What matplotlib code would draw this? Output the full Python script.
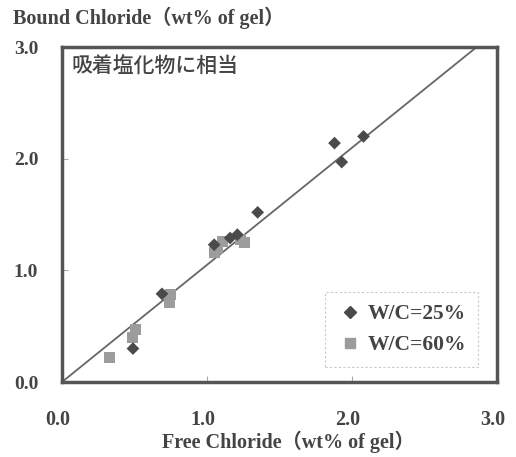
import matplotlib
matplotlib.use("Agg")
import matplotlib.pyplot as plt
from matplotlib.lines import Line2D
from matplotlib.transforms import ScaledTranslation

# Data
wc25_free = [0.49, 0.69, 1.05, 1.16, 1.21, 1.35, 1.88, 1.93, 2.08]
wc25_bound = [0.30, 0.79, 1.23, 1.29, 1.32, 1.52, 2.14, 1.97, 2.20]
wc60_free = [0.33, 0.49, 0.51, 0.74, 0.75, 1.05, 1.07, 1.11, 1.26, 1.23]
wc60_bound = [0.22, 0.40, 0.47, 0.71, 0.78, 1.16, 1.20, 1.26, 1.25, 1.28]
line_x = [0.0, 2.86]
line_y = [0.0, 3.0]
ticks = [0.0, 1.0, 2.0, 3.0]
tick_labels = ["0.0", "1.0", "2.0", "3.0"]
series_labels = ["W/C=25%", "W/C=60%"]

serif = ["Liberation Serif", "Noto Sans CJK JP"]
txt = "#444444"

fig = plt.figure(figsize=(5.16, 4.57), dpi=100)
ax = fig.add_axes([0.120, 0.164, 0.843, 0.733])

ax.plot(line_x, line_y, color="#666666", lw=1.3, zorder=2)
ax.scatter(wc60_free, wc60_bound, marker="s", s=62, color="#9c9c9c",
           edgecolors="none", zorder=3)
ax.scatter(wc25_free, wc25_bound, marker="D", s=42, color="#4a4a4a",
           edgecolors="none", zorder=4)

ax.set_xlim(0, 3)
ax.set_ylim(0, 3)
ax.set_xticks(ticks)
ax.set_yticks(ticks)
ax.set_xticklabels(tick_labels, family=serif, fontsize=14.5, fontweight="bold", color=txt)
ax.set_yticklabels(tick_labels, family=serif, fontsize=14, fontweight="bold", color=txt)
ax.tick_params(direction="in", length=4, width=0.8, color="#aaaaaa")
ax.tick_params(axis="x", pad=20)
ax.tick_params(axis="y", pad=17)
shift = ScaledTranslation(-4 / 100, 0, fig.dpi_scale_trans)
for lab in ax.get_xticklabels():
    lab.set_transform(lab.get_transform() + shift)
for sp in ax.spines.values():
    sp.set_linewidth(2.5)
    sp.set_color("#555555")

ax.set_xlabel("Free Chloride（wt% of gel）", family=serif, fontsize=14.5,
              fontweight="bold", color=txt, labelpad=1)
ax.xaxis.set_label_coords(0.52, -0.145)
fig.text(0.025, 0.962, "Bound Chloride（wt% of gel）", family=serif, fontsize=14.5,
         fontweight="bold", color=txt, ha="left", va="center")

ax.text(0.022, 0.942, "吸着塩化物に相当", transform=ax.transAxes,
        family=["Noto Sans CJK JP", "DejaVu Sans"], fontsize=15,
        fontweight="medium", color=txt, ha="left", va="center")

handles = [
    Line2D([], [], marker="D", ls="none", color="#4a4a4a", markersize=6),
    Line2D([], [], marker="s", ls="none", color="#9c9c9c", markersize=6.5),
]
leg = ax.legend(handles, series_labels, loc="lower right",
                bbox_to_anchor=(0.956, 0.045), frameon=True, fancybox=False,
                prop={"family": serif, "size": 15.5, "weight": "bold"},
                handletextpad=0.2, handlelength=1.2, borderpad=0.55,
                labelspacing=0.5, borderaxespad=0)
for t in leg.get_texts():
    t.set_color(txt)
fr = leg.get_frame()
fr.set_edgecolor("#bbbbbb")
fr.set_linestyle((0, (2, 2)))
fr.set_linewidth(0.8)

fig.savefig("out.png", dpi=100)
